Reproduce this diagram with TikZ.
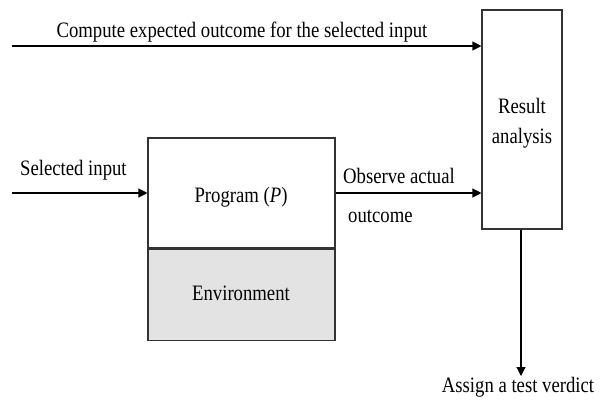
\documentclass[tikz,border=0pt]{standalone}
\usepackage{fontspec}
\setmainfont[FakeStretch=0.85]{Liberation Serif}
\usetikzlibrary{arrows.meta}
\begin{document}
\begin{tikzpicture}[x=1pt,y=-1pt,
  box/.style={draw=black!80,line width=1.1pt,inner sep=0pt},
  conn/.style={line width=1.1pt,-{Triangle[length=9pt,width=9pt]}},
  lbl/.style={font=\fontsize{22}{30}\selectfont,inner sep=0pt,text=black}]
\useasboundingbox (0,0) rectangle (604,399);
% boxes
\node[box,minimum width=80pt,minimum height=219pt] (res) at (522,119.5) {};
\node[lbl,anchor=base] (restxt1) at (522,113) {Result};
\node[lbl,anchor=base] (restxt2) at (522,143) {analysis};
\node[box,minimum width=187pt,minimum height=110pt] (prog) at (241.5,193) {};
\node[box,fill=black!11,minimum width=187pt,minimum height=91pt,anchor=north] (env) at (prog.south) {};
\node[lbl,anchor=base] (progtxt) at (241,202) {Program (\textit{P})};
\node[lbl,anchor=base] (envtxt) at (241,300) {Environment};
% coordinates
\coordinate (topstart) at (12,46);
\coordinate (selstart) at (12,193);
\coordinate (verdict) at (521,376);
% connectors
\draw[conn] (topstart) -- (topstart -| res.west);
\node[lbl,anchor=base] (comptxt) at (242,37) {Compute expected outcome for the selected input};
\draw[conn] (selstart) -- (prog.west);
\node[lbl,anchor=base west] (seltxt) at (20,175) {Selected input};
\draw[conn] (prog.east) -- (prog.east -| res.west);
\node[lbl,anchor=base west] (obstxt) at (343,183) {Observe actual};
\node[lbl,anchor=base west] (outtxt) at (348,222) {outcome};
\draw[conn] (res.south -| verdict) -- (verdict);
\node[lbl,anchor=base] (verdtxt) at (518,392) {Assign a test verdict};
\end{tikzpicture}
\end{document}
